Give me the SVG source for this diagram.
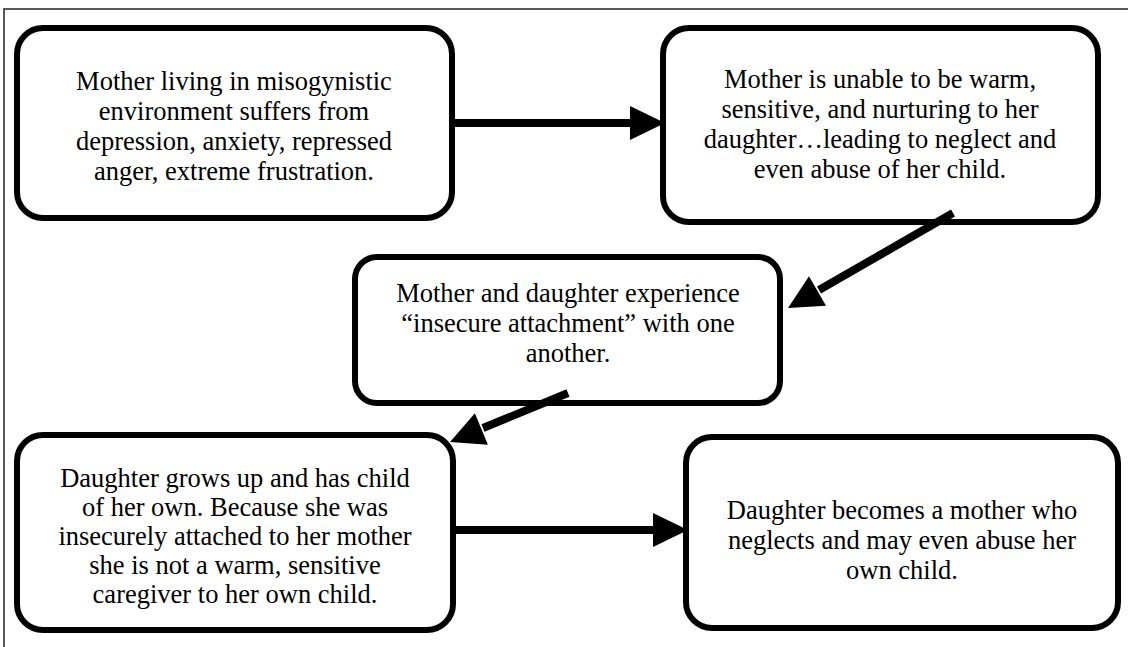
<svg xmlns="http://www.w3.org/2000/svg" width="1128" height="647" viewBox="0 0 1128 647">
<style>
.box{fill:#fff;stroke:#000;stroke-width:6}
.t{font-family:"Liberation Serif","Times New Roman",serif;font-size:26.5px;fill:#000;text-anchor:middle}
.shaft{stroke:#000;stroke-width:8;fill:none}
.head{fill:#000}
.frame{stroke:#222;stroke-width:1.5;fill:none}
</style>
<rect width="1128" height="647" fill="#fff"/>
<path class="frame" d="M4,647 V9 H1128"/>
<g id="n1">
<rect class="box" x="17" y="28" width="435" height="190" rx="26"/>
<text class="t"><tspan x="234" y="90">Mother living in misogynistic</tspan><tspan x="234" y="120">environment suffers from</tspan><tspan x="234" y="150">depression, anxiety, repressed</tspan><tspan x="234" y="180">anger, extreme frustration.</tspan></text>
</g>
<g id="n2">
<rect class="box" x="663" y="28" width="435" height="194" rx="26"/>
<text class="t"><tspan x="880" y="88">Mother is unable to be warm,</tspan><tspan x="880" y="118">sensitive, and nurturing to her</tspan><tspan x="880" y="148">daughter…leading to neglect and</tspan><tspan x="880" y="178">even abuse of her child.</tspan></text>
</g>
<g id="n3">
<rect class="box" x="355" y="257" width="425" height="146" rx="22"/>
<text class="t"><tspan x="568" y="302">Mother and daughter experience</tspan><tspan x="568" y="332">“insecure attachment” with one</tspan><tspan x="568" y="362">another.</tspan></text>
</g>
<g id="n4">
<rect class="box" x="17" y="435" width="436" height="195" rx="26"/>
<text class="t"><tspan x="235" y="487">Daughter grows up and has child</tspan><tspan x="235" y="516">of her own. Because she was</tspan><tspan x="235" y="545">insecurely attached to her mother</tspan><tspan x="235" y="574">she is not a warm, sensitive</tspan><tspan x="235" y="603">caregiver to her own child.</tspan></text>
</g>
<g id="n5">
<rect class="box" x="686" y="437" width="432" height="191" rx="26"/>
<text class="t"><tspan x="902" y="519">Daughter becomes a mother who</tspan><tspan x="902" y="549">neglects and may even abuse her</tspan><tspan x="902" y="579">own child.</tspan></text>
</g>
<g id="connectors">
<line class="shaft" x1="452" y1="123" x2="634" y2="123"/>
<polygon class="head" points="630,106 665,123 630,140"/>
<line class="shaft" x1="953" y1="213" x2="819" y2="290"/>
<polygon class="head" points="826,305.7 788,308 809,276.3"/>
<line class="shaft" x1="568" y1="393" x2="483" y2="428"/>
<polygon class="head" points="487.9,444.7 450,442 474.9,413.3"/>
<line class="shaft" x1="453" y1="530" x2="656" y2="530"/>
<polygon class="head" points="653,513 688,530 653,547"/>
</g>
</svg>
